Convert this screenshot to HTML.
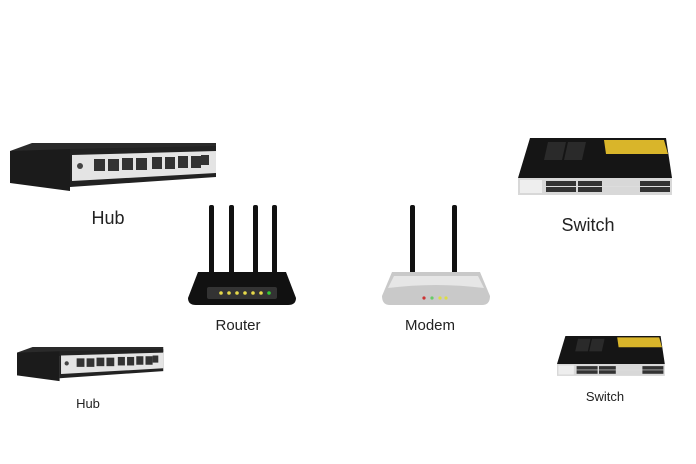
<!DOCTYPE html>
<html><head><meta charset="utf-8"><style>
html,body{margin:0;padding:0;background:#fff;}
svg{display:block;}
text{font-family:"Liberation Sans",sans-serif;fill:#222;}
</style></head><body>
<svg width="696" height="464" viewBox="0 0 696 464" xmlns="http://www.w3.org/2000/svg">
<defs>
<g id="hub">
  <polygon points="0,8 22,0 206,0 206,7 0,15" fill="#2a2a2a"/>
  <polygon points="0,8 60,6 60,48 0,40" fill="#1b1b1b"/>
  <polygon points="60,6 206,3 206,34 60,44" fill="#222"/>
  <polygon points="62,12 206,8 206,30 62,38" fill="#e4e4e4"/>
  <circle cx="70" cy="23" r="3" fill="#444"/>
  <g fill="#333">
    <rect x="84" y="16" width="11" height="12"/><rect x="98" y="16" width="11" height="12"/>
    <rect x="112" y="15" width="11" height="12"/><rect x="126" y="15" width="11" height="12"/>
    <rect x="142" y="14" width="10" height="12"/><rect x="155" y="14" width="10" height="12"/>
    <rect x="168" y="13" width="10" height="12"/><rect x="181" y="13" width="10" height="12"/>
    <rect x="191" y="12" width="8" height="10"/>
  </g>
</g>
<g id="sw">
  <polygon points="12,0 148,0 154,40 0,40" fill="#151515"/>
  <polygon points="86,2 146,2 150,16 88,16" fill="#d9b52a"/>
  <polygon points="30,4 48,4 44,22 26,22" fill="#2a2a2a"/>
  <polygon points="50,4 68,4 64,22 46,22" fill="#2a2a2a"/>
  <rect x="0" y="40" width="154" height="17" fill="#d8d8d8"/>
  <rect x="2" y="42" width="22" height="13" fill="#eee"/>
  <g fill="#333">
    <rect x="28" y="43" width="30" height="11"/><rect x="60" y="43" width="24" height="11"/>
    <rect x="122" y="43" width="30" height="11"/>
  </g>
  <g stroke="#ddd" stroke-width="1"><line x1="28" y1="48.5" x2="152" y2="48.5"/></g>
</g>
</defs>

<use href="#hub" transform="translate(10,143)"/>
<text x="108" y="224" font-size="18" text-anchor="middle">Hub</text>

<use href="#hub" transform="translate(17,347) scale(0.71)"/>
<text x="88" y="408" font-size="13" text-anchor="middle">Hub</text>

<use href="#sw" transform="translate(518,138)"/>
<text x="588" y="231" font-size="18" text-anchor="middle">Switch</text>

<use href="#sw" transform="translate(557,336) scale(0.70)"/>
<text x="605" y="401" font-size="13" text-anchor="middle">Switch</text>

<!-- Router -->
<g fill="#111">
  <rect x="209" y="205" width="5" height="70" rx="2"/>
  <rect x="229" y="205" width="5" height="70" rx="2"/>
  <rect x="253" y="205" width="5" height="70" rx="2"/>
  <rect x="272" y="205" width="5" height="70" rx="2"/>
  <path d="M198,272 H286 L296,298 Q296,305 288,305 H196 Q188,305 188,298 Z"/>
</g>
<rect x="207" y="287" width="70" height="12" rx="2" fill="#333"/>
<g fill="#e6d94a">
  <circle cx="221" cy="293" r="1.8"/><circle cx="229" cy="293" r="1.8"/><circle cx="237" cy="293" r="1.8"/>
  <circle cx="245" cy="293" r="1.8"/><circle cx="253" cy="293" r="1.8"/><circle cx="261" cy="293" r="1.8"/>
</g>
<circle cx="269" cy="293" r="1.8" fill="#3c3"/>
<text x="238" y="330" font-size="15" text-anchor="middle">Router</text>

<!-- Modem -->
<g fill="#111">
  <rect x="410" y="205" width="5" height="70" rx="2"/>
  <rect x="452" y="205" width="5" height="70" rx="2"/>
</g>
<path d="M392,272 H480 L490,296 Q490,305 482,305 H390 Q382,305 382,296 Z" fill="#c9c9c9"/>
<path d="M394,276 H478 L484,288 Q436,282 388,288 Z" fill="#e6e6e6"/>
<circle cx="424" cy="298" r="1.6" fill="#c33"/>
<circle cx="432" cy="298" r="1.6" fill="#6c6"/>
<circle cx="440" cy="298" r="1.6" fill="#dd4"/>
<circle cx="446" cy="298" r="1.6" fill="#dd4"/>
<text x="430" y="330" font-size="15" text-anchor="middle">Modem</text>
</svg>
</body></html>
